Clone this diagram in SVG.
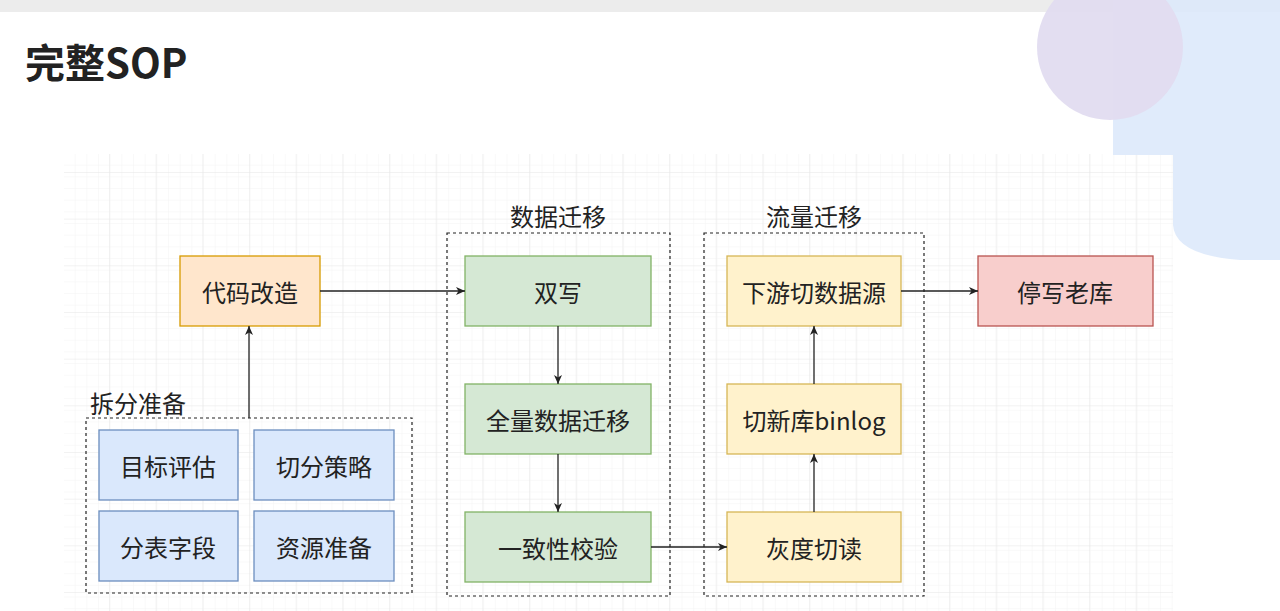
<svg xmlns="http://www.w3.org/2000/svg" width="1280" height="611" viewBox="0 0 1280 611">
<defs>
<pattern id="minor" width="11.67" height="11.67" patternUnits="userSpaceOnUse" x="64" y="154"><path d="M11.67 0V11.67H0" fill="none" stroke="#f3f3f3" stroke-width="1"/></pattern>
<pattern id="major" width="46.67" height="46.67" patternUnits="userSpaceOnUse" x="63.3" y="126.3"><path d="M46.67 0V46.67H0" fill="none" stroke="#e6e6e6" stroke-width="1"/></pattern>
<marker id="arr" markerWidth="10" markerHeight="10" refX="9" refY="5" orient="auto" markerUnits="userSpaceOnUse"><path d="M0 1L9 5L0 9L2.5 5Z" fill="#222"/></marker>
</defs>
<style>
text{font-family:"Noto Sans CJK SC","Liberation Sans",sans-serif;fill:#222;}
.lbl{font-size:24px;text-anchor:middle;dominant-baseline:central;}
.box{stroke-width:1.3;}
.o{fill:#ffe6cc;stroke:#d79b00;}
.g{fill:#d5e8d4;stroke:#82b366;}
.y{fill:#fff2cc;stroke:#d6b656;}
.r{fill:#f8cecc;stroke:#b85450;}
.b{fill:#dae8fc;stroke:#6c8ebf;}
.cont{fill:none;stroke:#222;stroke-width:1.2;stroke-dasharray:3 3;}
.c{stroke:#222;stroke-width:1.3;fill:none;marker-end:url(#arr);}
</style>
<rect width="1280" height="611" fill="#fff"/>
<rect width="1280" height="12" fill="#ececec"/>
<rect x="64" y="154" width="1109" height="457" fill="url(#minor)"/>
<rect x="64" y="154" width="1109" height="457" fill="url(#major)"/>
<path d="M1113 0H1280V260H1240Q1175 255 1173 225V155H1113Z" fill="#dde9fb" opacity="0.9"/>
<circle cx="1110" cy="47" r="73" fill="#e1dcf0" opacity="0.95"/>
<text x="25" y="78" font-size="40" font-weight="bold" style="font-family:'Noto Sans CJK SC','Liberation Sans',sans-serif">完整SOP</text>

<g id="prep"><rect class="cont" x="86" y="418" width="326" height="175"/><text x="90" y="402" font-size="24" dominant-baseline="central">拆分准备</text></g>
<g id="datamig"><rect class="cont" x="447" y="233" width="223" height="363"/><text class="lbl" x="558" y="215">数据迁移</text></g>
<g id="trafmig"><rect class="cont" x="704" y="233" width="220" height="363"/><text class="lbl" x="814" y="215">流量迁移</text></g>

<g id="n-code"><rect class="box o" x="180" y="256" width="140" height="70"/><text class="lbl" x="250" y="291">代码改造</text></g>
<g id="n-dual"><rect class="box g" x="465" y="256" width="186" height="70"/><text class="lbl" x="558" y="291">双写</text></g>
<g id="n-full"><rect class="box g" x="465" y="384" width="186" height="70"/><text class="lbl" x="558" y="419">全量数据迁移</text></g>
<g id="n-check"><rect class="box g" x="465" y="512" width="186" height="70"/><text class="lbl" x="558" y="547">一致性校验</text></g>
<g id="n-down"><rect class="box y" x="727" y="256" width="174" height="70"/><text class="lbl" x="814" y="291">下游切数据源</text></g>
<g id="n-binlog"><rect class="box y" x="727" y="384" width="174" height="70"/><text class="lbl" x="814" y="419">切新库binlog</text></g>
<g id="n-gray"><rect class="box y" x="727" y="512" width="174" height="70"/><text class="lbl" x="814" y="547">灰度切读</text></g>
<g id="n-stop"><rect class="box r" x="978" y="256" width="175" height="70"/><text class="lbl" x="1065" y="291">停写老库</text></g>
<g id="n-eval"><rect class="box b" x="99" y="430" width="139" height="70"/><text class="lbl" x="168" y="465">目标评估</text></g>
<g id="n-strat"><rect class="box b" x="254" y="430" width="140" height="70"/><text class="lbl" x="324" y="465">切分策略</text></g>
<g id="n-field"><rect class="box b" x="99" y="511" width="139" height="70"/><text class="lbl" x="168" y="546">分表字段</text></g>
<g id="n-res"><rect class="box b" x="254" y="511" width="140" height="70"/><text class="lbl" x="324" y="546">资源准备</text></g>

<g id="connectors">
<path class="c" d="M320 291H465"/>
<path class="c" d="M249 418V326"/>
<path class="c" d="M558 326V384"/>
<path class="c" d="M558 454V512"/>
<path class="c" d="M651 547H727"/>
<path class="c" d="M814 512V454"/>
<path class="c" d="M814 384V326"/>
<path class="c" d="M901 291H978"/>
</g>
</svg>
